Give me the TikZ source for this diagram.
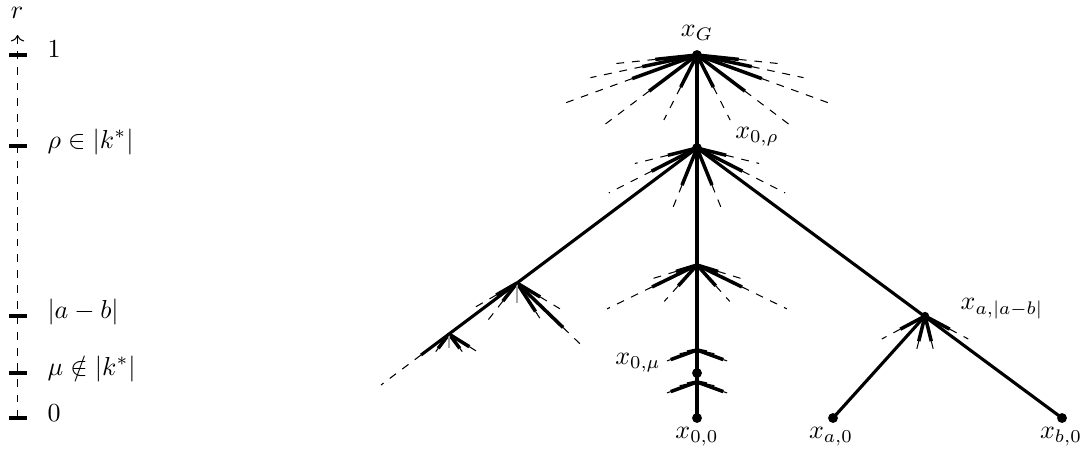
\documentclass[tikz,border=0pt]{standalone}
\usetikzlibrary{arrows.meta}
\newcommand\oneray[4]{%
  \draw[raysolid] (#1) -- ++(#2:#3);
  \draw[raydash] (#1) ++(#2:#3) -- ++(#2:{#4-#3});}
\newcommand\symfan[2]{%
  \foreach \a/\s/\t in {#2}{%
    \oneray{#1}{{180-\a}}{\s}{\t}
    \oneray{#1}{\a}{\s}{\t}
  }}
\begin{document}
\begin{tikzpicture}[x=0.3846pt,y=-0.3846pt,
  branch/.style={line width=1.2pt},
  raysolid/.style={line width=1.35pt},
  raydash/.style={dashed,line width=0.4pt},
  dot/.style={circle,fill,inner sep=0pt,minimum size=3.8pt},
  smalldot/.style={circle,fill,inner sep=0pt,minimum size=3.2pt},
  axlbl/.style={anchor=base west,inner sep=0pt},
  tickmark/.style={line width=1.2pt},
  faint/.style={line width=1pt,black!35}]
\useasboundingbox (0,0) rectangle (1086,461);

% axis
\coordinate (a0) at (17.5,418);
\coordinate (a1) at (17.5,35);
\draw[dashed,->] (a0) -- (a1);
\node[inner sep=1pt] (rlbl) at (17,13) {$r$};
\foreach \y in {55,146,316,373,418} \draw[tickmark] (9,\y) -- (27,\y);
\node[axlbl] (l1) at (47,57) {$1$};
\node[axlbl] (l2) at (47,148) {$\rho\in|k^*|$};
\node[axlbl] (l3) at (47,318) {$|a-b|$};
\node[axlbl] (l4) at (47,375) {$\mu\notin|k^*|$};
\node[axlbl] (l5) at (47,421) {$0$};

% tree points
\coordinate (m) at (697,265);
\coordinate (f1) at (697,350);
\coordinate (f2) at (697,382);
\coordinate (j1) at (517,283);
\coordinate (j2) at (449,334);
\coordinate (jend) at (421,355);
\coordinate (jdash) at (381,385);

% fans
\symfan{697,55}{6/42/84, 12/56/109, 20/69/141, 37/60/115, 63/36/73}
\symfan{697,148}{14/30/64, 27/51/99, 68/40/67}
\symfan{m}{17/22/47, 26/50/100, 48/28/49}
\symfan{f1}{20/28/32, 12/10/24}
\symfan{f2}{20/28/32, 12/10/24}
\symfan{925,316}{28/28/49, 76/26/34}
% left junctions
\oneray{j1}{150}{24}{48}
\oneray{j1}{128}{23}{51}
\oneray{j1}{31}{27}{50}
\oneray{j1}{57}{34}{49}
\oneray{j1}{44}{64}{95}
\draw[faint] (j1) -- ++(90:20);
\oneray{j2}{127}{18}{22}
\oneray{j2}{53}{18}{22}
\oneray{j2}{32}{24}{35}
\draw[faint] (j2) -- ++(90:14);

% nodes
\node[dot] (xG) at (697,55) {};
\node[dot] (x0r) at (697,148) {};
\node[dot] (x0m) at (697,373) {};
\node[dot] (x00) at (697,418) {};
\node[smalldot] (xab) at (925,316) {};
\node[dot] (xa0) at (833,418) {};
\node[dot] (xb0) at (1062,418) {};

% branches
\draw[branch] (xG.center) -- (x0r.center) -- (x00.center);
\draw[branch] (x0r.center) -- (jend);
\draw[raydash] (jend) -- (jdash);
\draw[branch] (x0r.center) -- (xb0.center);
\draw[branch] (xab.center) -- (xa0.center);

% labels
\node (tG) at (697,33) {$x_G$};
\node (t0r) at (757,137) {$x_{0,\rho}$};
\node (t0m) at (638,363) {$x_{0,\mu}$};
\node (t00) at (697,437) {$x_{0,0}$};
\node (ta0) at (831,437) {$x_{a,0}$};
\node (tb0) at (1061,437) {$x_{b,0}$};
\node (tab) at (1002,309) {$x_{a,|a-b|}$};
\end{tikzpicture}
\end{document}
